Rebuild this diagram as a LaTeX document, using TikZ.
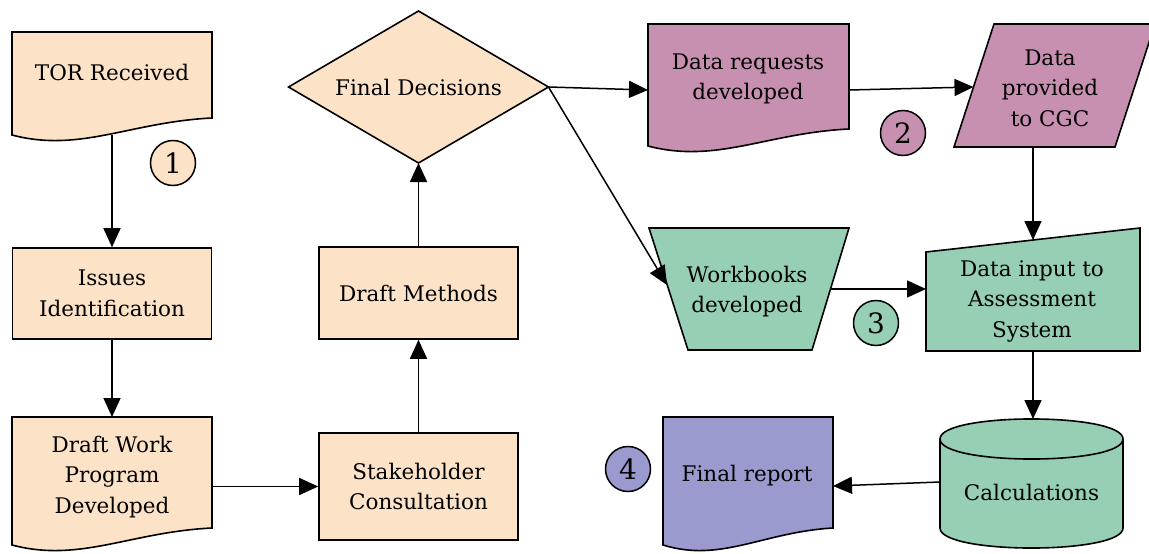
\documentclass[tikz,border=0pt]{standalone}
\usepackage{fontspec}
\setmainfont{DejaVu Serif}
\newfontfamily\labelfont{DejaVu Serif}
\usetikzlibrary{arrows.meta}

\definecolor{peach}{HTML}{FCE2C6}
\definecolor{mauve}{HTML}{C890B0}
\definecolor{seagreen}{HTML}{96CFB3}
\definecolor{lilac}{HTML}{9A9ACF}

% document symbol: top-left (x0,y0), right edge bottom at y1, wavy lower edge
\newcommand\docshape[5]{%
  \pgfmathsetmacro\dwid{#3-#1}%
  \pgfmathsetmacro\pax{#1+0.59*\dwid}%
  \pgfmathsetmacro\pbx{#1+0.34*\dwid}%
  \filldraw[shapeline,fill=#5] (#1,#2) -- (#3,#2) -- (#3,#4)
    .. controls (\pax,#4+4) and (\pbx,#4+35) .. (#1,#4+17) -- cycle;}

\begin{document}
\begin{tikzpicture}[x=1pt,y=-1pt,
  shapeline/.style={draw=black,line width=1.6pt,line join=miter},
  lbl/.style={font=\labelfont\fontsize{21.5}{30.5}\selectfont,align=center,inner sep=0pt},
  box/.style={shapeline,fill=peach,rectangle,minimum width=199pt,
    font=\labelfont\fontsize{21.5}{30.5}\selectfont,align=center,inner sep=0pt},
  num/.style={circle,draw,line width=1.5pt,minimum size=45pt,inner sep=0pt,
    font=\labelfont\fontsize{28}{28}\selectfont},
  flow/.style={draw,line width=1.5pt,-{Triangle[length=19pt,width=17pt]}},
]
\useasboundingbox (0,0) rectangle (1149,554);

% ---- stage 1: scoping (peach) ----
\docshape{12}{32}{212}{118}{peach}
\node[lbl] (tor) at (112,72) {TOR Received};
\coordinate (tor-s) at (112,135);

\node[box,minimum height=91pt] (issues) at (112,293.5) {Issues\\Identification};

\docshape{12}{417}{212}{528}{peach}
\node[lbl] (dwp) at (112,477) {Draft Work\\Program\\Developed};
\coordinate (dwp-n) at (112,417);
\coordinate (dwp-e) at (212,486.5);

\node[box,minimum height=107pt] (stake) at (418.5,486.5) {Stakeholder\\Consultation};
\node[box,minimum height=92pt] (dm) at (418.5,293) {Draft Methods};

\filldraw[shapeline,fill=peach] (288.5,87) -- (418.5,11) -- (548.5,87) -- (418.5,163) -- cycle;
\node[lbl] (dec) at (418.5,87) {Final Decisions};
\coordinate (dec-s) at (418.5,163);
\coordinate (dec-e) at (548.5,87);

\node[num,fill=peach] (n1) at (173,163) {1};

% ---- stage 2: data requests (mauve) ----
\docshape{648}{24}{849}{129}{mauve}
\node[lbl] (dr) at (748,79) {Data requests\\developed};
\coordinate (dr-w) at (648,90);
\coordinate (dr-e) at (849,90);

\filldraw[shapeline,fill=mauve] (954,147) -- (994,24) -- (1155,24) -- (1115,147) -- cycle;
\node[lbl] (dp) at (1050,88) {Data\\provided\\to CGC};
\coordinate (dp-w) at (973.5,87);
\coordinate (dp-s) at (1033,147);

\node[num,fill=mauve] (n2) at (903,133) {2};

% ---- stage 3: assessment (green) ----
\filldraw[shapeline,fill=seagreen] (649,228) -- (849,228) -- (812,350) -- (688,350) -- cycle;
\node[lbl] (wb) at (747,291.5) {Workbooks\\developed};
\coordinate (wb-w) at (667,285);
\coordinate (wb-e) at (830,289);

\filldraw[shapeline,fill=seagreen] (926,252) -- (1140,228) -- (1140,351) -- (926,351) -- cycle;
\node[lbl] (di) at (1032,301) {Data input to\\Assessment\\System};
\coordinate (di-n) at (1033,240);
\coordinate (di-w) at (926,289);
\coordinate (di-s) at (1033,351);

\filldraw[shapeline,fill=seagreen] (940,439) -- (940,528)
  .. controls (940,554.7) and (1123,554.7) .. (1123,528) -- (1123,439)
  .. controls (1123,412.3) and (940,412.3) .. (940,439) -- cycle;
\draw[shapeline] (940,439) .. controls (940,465.7) and (1123,465.7) .. (1123,439);
\node[lbl] (calc) at (1031.5,492) {Calculations};
\coordinate (calc-n) at (1033,419);
\coordinate (calc-w) at (940,482);

\node[num,fill=seagreen] (n3) at (876,323) {3};

% ---- stage 4: reporting (lilac) ----
\docshape{663}{417}{833}{528}{lilac}
\node[lbl] (fr) at (747,476) {Final report};
\coordinate (fr-e) at (833,486);

\node[num,fill=lilac] (n4) at (628,469) {4};

% ---- connectors ----
\draw[flow] (tor-s) -- (issues.north);
\draw[flow] (issues.south) -- (dwp-n);
\draw[flow] (dwp-e) -- (stake.west);
\draw[flow] (stake.north) -- (dm.south);
\draw[flow] (dm.north) -- (dec-s);
\draw[flow] (dec-e) -- (dr-w);
\draw[flow] (dec-e) -- (wb-w);
\draw[flow] (dr-e) -- (dp-w);
\draw[flow] (dp-s) -- (di-n);
\draw[flow] (wb-e) -- (di-w);
\draw[flow] (di-s) -- (calc-n);
\draw[flow] (calc-w) -- (fr-e);
\end{tikzpicture}
\end{document}
